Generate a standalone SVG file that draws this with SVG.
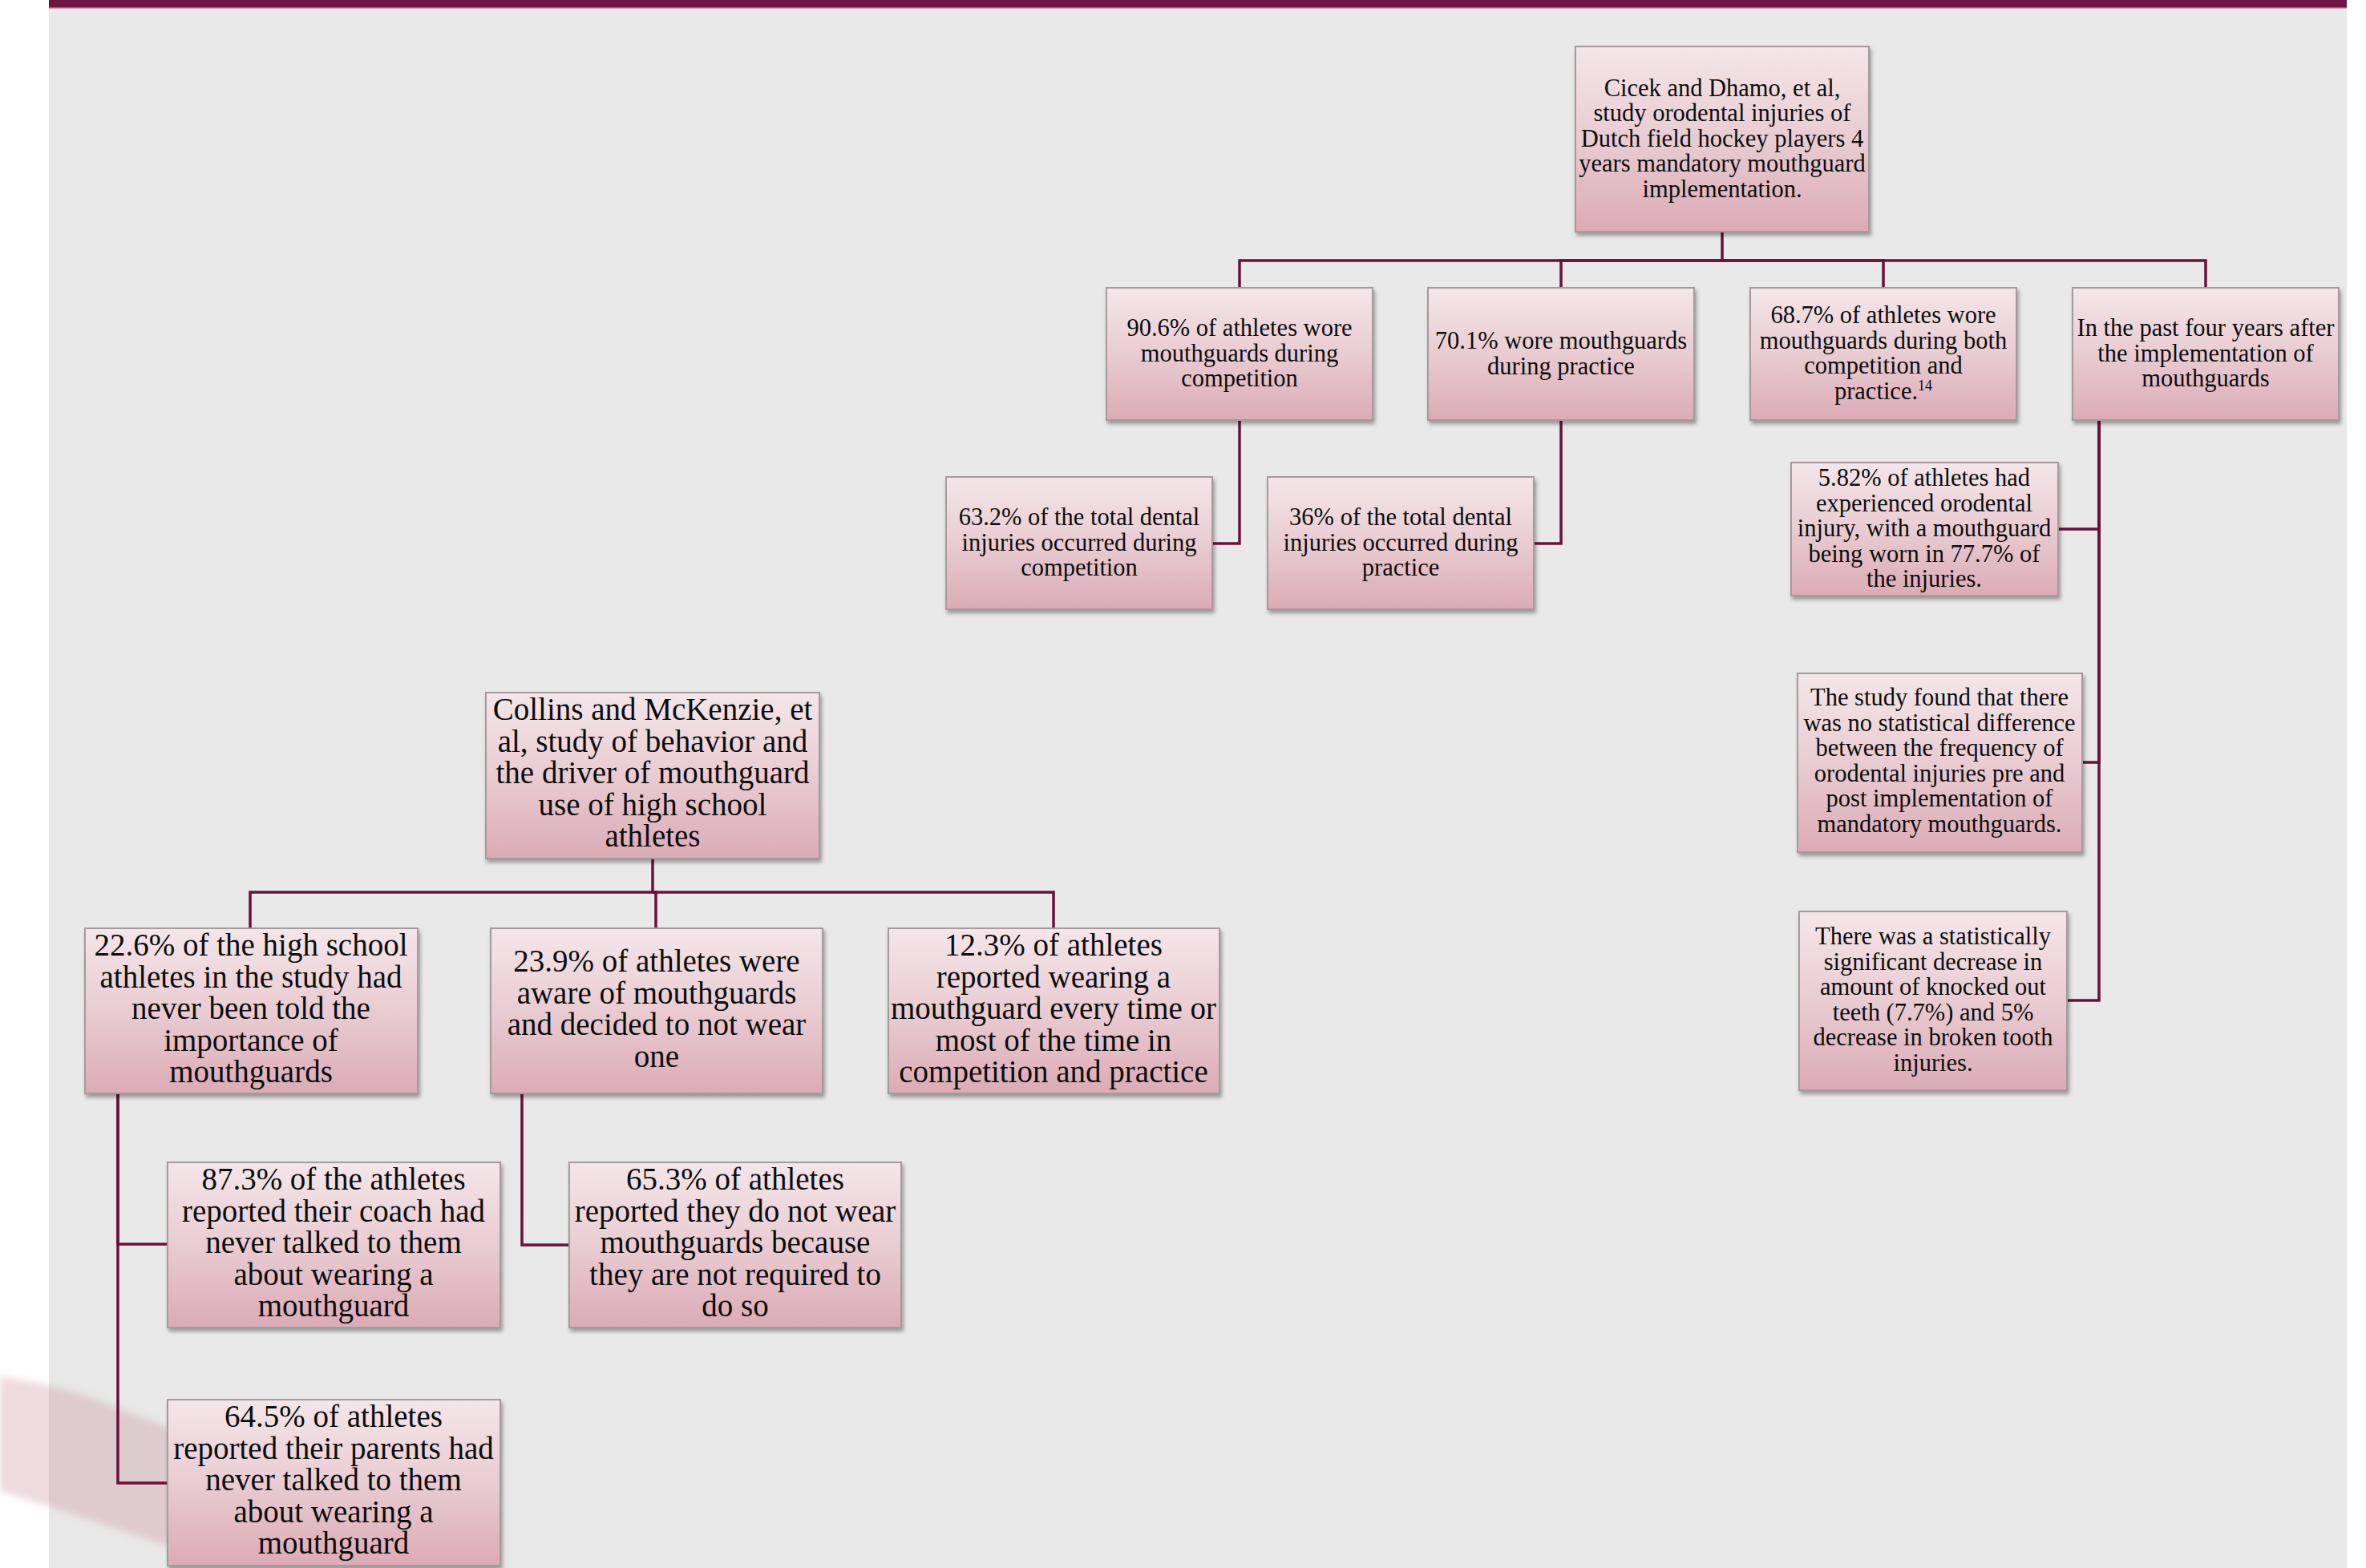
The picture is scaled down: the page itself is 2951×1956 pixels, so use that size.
<svg xmlns="http://www.w3.org/2000/svg" width="2951" height="1956" viewBox="0 0 2951 1956">
<defs>
<linearGradient id="boxg" x1="0" y1="0" x2="0" y2="1">
<stop offset="0" stop-color="#f4e6ea"/>
<stop offset="0.5" stop-color="#e9ccd3"/>
<stop offset="1" stop-color="#dbabb6"/>
</linearGradient>
<filter id="shadow" x="-10%" y="-10%" width="125%" height="130%">
<feDropShadow dx="2" dy="4" stdDeviation="2.5" flood-color="#000" flood-opacity="0.35"/>
</filter>
<filter id="soft" x="-20%" y="-20%" width="140%" height="140%">
<feGaussianBlur stdDeviation="5"/>
</filter>
</defs>
<style>
.box{fill:url(#boxg);stroke:#a59a9d;stroke-width:2;filter:url(#shadow)}
.s{font-family:"Liberation Serif","Times New Roman",serif;font-size:30.5px;text-anchor:middle;fill:#0d0d0d}
.b{font-family:"Liberation Serif","Times New Roman",serif;font-size:39px;text-anchor:middle;fill:#0d0d0d}
.sup{font-size:18px}
.con path{fill:none;stroke:#6b1139;stroke-width:3.5}
</style>
<rect x="0" y="0" width="2951" height="1956" fill="#ffffff"/>
<rect x="61" y="0" width="2866" height="1956" fill="#e8e9e8"/>
<rect x="61" y="0" width="2866" height="9" fill="#6d1443"/>
<rect x="61" y="9" width="2866" height="1.5" fill="#a8607f"/>
<polygon points="0,1717 60,1728 110,1742 160,1762 230,1788 230,1935 160,1912 100,1892 40,1872 0,1860" fill="#c98d9a" fill-opacity="0.32" filter="url(#soft)"/>

<g id="connectors" class="con">
<path d="M2148 289 V325 H1546 V359"/>
<path d="M2148 325 H1947 V359"/>
<path d="M2148 325 H2349 V359"/>
<path d="M2148 325 H2751 V359"/>
<path d="M1546 524 V678 H1512"/>
<path d="M1947 524 V678 H1913"/>
<path d="M2618 524 V660 H2567"/>
<path d="M2618 524 V951 H2597"/>
<path d="M2618 524 V1248 H2578"/>
<path d="M814 1071 V1113 H312 V1158"/>
<path d="M814 1113 H818 V1158"/>
<path d="M814 1113 H1314 V1158"/>
<path d="M147 1364 V1552 H209"/>
<path d="M147 1364 V1850 H209"/>
<path d="M651 1364 V1553 H710"/>
</g>

<g id="n-cicek">
<rect class="box" x="1965" y="58" width="366" height="231"/>
<text class="s" x="2148" y="119.5">Cicek and Dhamo, et al,<tspan x="2148" dy="31.5">study orodental injuries of</tspan><tspan x="2148" dy="31.5">Dutch field hockey players 4</tspan><tspan x="2148" dy="31.5">years mandatory mouthguard</tspan><tspan x="2148" dy="31.5">implementation.</tspan></text>
</g>
<g id="n-comp">
<rect class="box" x="1380" y="359" width="332" height="165"/>
<text class="s" x="1546" y="419">90.6% of athletes wore<tspan x="1546" dy="31.5">mouthguards during</tspan><tspan x="1546" dy="31.5">competition</tspan></text>
</g>
<g id="n-prac">
<rect class="box" x="1781" y="359" width="332" height="165"/>
<text class="s" x="1947" y="435">70.1% wore mouthguards<tspan x="1947" dy="31.5">during practice</tspan></text>
</g>
<g id="n-both">
<rect class="box" x="2183" y="359" width="332" height="165"/>
<text class="s" x="2349" y="403">68.7% of athletes wore<tspan x="2349" dy="31.5">mouthguards during both</tspan><tspan x="2349" dy="31.5">competition and</tspan><tspan x="2349" dy="31.5">practice.</tspan><tspan class="sup" dy="-11">14</tspan></text>
</g>
<g id="n-past">
<rect class="box" x="2585" y="359" width="332" height="165"/>
<text class="s" x="2751" y="419">In the past four years after<tspan x="2751" dy="31.5">the implementation of</tspan><tspan x="2751" dy="31.5">mouthguards</tspan></text>
</g>
<g id="n-comp-inj">
<rect class="box" x="1180" y="595" width="332" height="165"/>
<text class="s" x="1346" y="655">63.2% of the total dental<tspan x="1346" dy="31.5">injuries occurred during</tspan><tspan x="1346" dy="31.5">competition</tspan></text>
</g>
<g id="n-prac-inj">
<rect class="box" x="1581" y="595" width="332" height="165"/>
<text class="s" x="1747" y="655">36% of the total dental<tspan x="1747" dy="31.5">injuries occurred during</tspan><tspan x="1747" dy="31.5">practice</tspan></text>
</g>
<g id="n-582">
<rect class="box" x="2234" y="577" width="333" height="166"/>
<text class="s" x="2400" y="606">5.82% of athletes had<tspan x="2400" dy="31.5">experienced orodental</tspan><tspan x="2400" dy="31.5">injury, with a mouthguard</tspan><tspan x="2400" dy="31.5">being worn in 77.7% of</tspan><tspan x="2400" dy="31.5">the injuries.</tspan></text>
</g>
<g id="n-nodiff">
<rect class="box" x="2242" y="840" width="355" height="223"/>
<text class="s" x="2419" y="880">The study found that there<tspan x="2419" dy="31.5">was no statistical difference</tspan><tspan x="2419" dy="31.5">between the frequency of</tspan><tspan x="2419" dy="31.5">orodental injuries pre and</tspan><tspan x="2419" dy="31.5">post implementation of</tspan><tspan x="2419" dy="31.5">mandatory mouthguards.</tspan></text>
</g>
<g id="n-decrease">
<rect class="box" x="2244" y="1137" width="334" height="223"/>
<text class="s" x="2411" y="1178">There was a statistically<tspan x="2411" dy="31.5">significant decrease in</tspan><tspan x="2411" dy="31.5">amount of knocked out</tspan><tspan x="2411" dy="31.5">teeth (7.7%) and 5%</tspan><tspan x="2411" dy="31.5">decrease in broken tooth</tspan><tspan x="2411" dy="31.5">injuries.</tspan></text>
</g>

<g id="n-collins">
<rect class="box" x="606" y="864" width="416" height="207"/>
<text class="b" x="814" y="898">Collins and McKenzie, et<tspan x="814" dy="39.5">al, study of behavior and</tspan><tspan x="814" dy="39.5">the driver of mouthguard</tspan><tspan x="814" dy="39.5">use of high school</tspan><tspan x="814" dy="39.5">athletes</tspan></text>
</g>
<g id="n-told">
<rect class="box" x="106" y="1158" width="415" height="206"/>
<text class="b" x="313" y="1192">22.6% of the high school<tspan x="313" dy="39.5">athletes in the study had</tspan><tspan x="313" dy="39.5">never been told the</tspan><tspan x="313" dy="39.5">importance of</tspan><tspan x="313" dy="39.5">mouthguards</tspan></text>
</g>
<g id="n-aware">
<rect class="box" x="612" y="1158" width="414" height="206"/>
<text class="b" x="819" y="1212">23.9% of athletes were<tspan x="819" dy="39.5">aware of mouthguards</tspan><tspan x="819" dy="39.5">and decided to not wear</tspan><tspan x="819" dy="39.5">one</tspan></text>
</g>
<g id="n-wearing">
<rect class="box" x="1108" y="1158" width="413" height="206"/>
<text class="b" x="1314" y="1192">12.3% of athletes<tspan x="1314" dy="39.5">reported wearing a</tspan><tspan x="1314" dy="39.5">mouthguard every time or</tspan><tspan x="1314" dy="39.5">most of the time in</tspan><tspan x="1314" dy="39.5">competition and practice</tspan></text>
</g>
<g id="n-coach">
<rect class="box" x="209" y="1450" width="415" height="206"/>
<text class="b" x="416" y="1484">87.3% of the athletes<tspan x="416" dy="39.5">reported their coach  had</tspan><tspan x="416" dy="39.5">never talked to them</tspan><tspan x="416" dy="39.5">about wearing a</tspan><tspan x="416" dy="39.5">mouthguard</tspan></text>
</g>
<g id="n-required">
<rect class="box" x="710" y="1450" width="414" height="206"/>
<text class="b" x="917" y="1484">65.3% of athletes<tspan x="917" dy="39.5">reported they do not wear</tspan><tspan x="917" dy="39.5">mouthguards because</tspan><tspan x="917" dy="39.5">they are not required to</tspan><tspan x="917" dy="39.5">do so</tspan></text>
</g>
<g id="n-parents">
<rect class="box" x="209" y="1746" width="415" height="207"/>
<text class="b" x="416" y="1780">64.5% of athletes<tspan x="416" dy="39.5">reported their parents had</tspan><tspan x="416" dy="39.5">never talked to them</tspan><tspan x="416" dy="39.5">about wearing a</tspan><tspan x="416" dy="39.5">mouthguard</tspan></text>
</g>
</svg>
